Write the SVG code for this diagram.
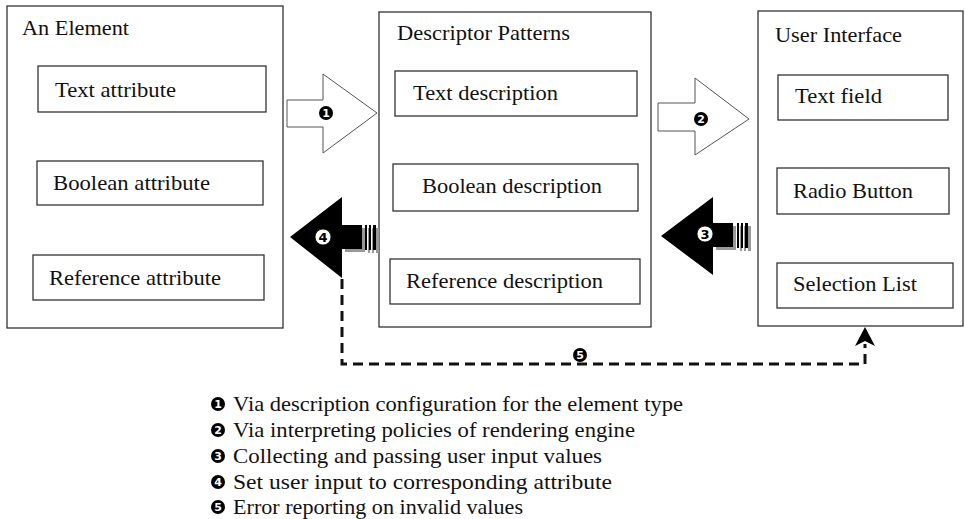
<svg xmlns="http://www.w3.org/2000/svg" width="965" height="519" viewBox="0 0 965 519">
<style>
.box{fill:#fff;stroke:#333;stroke-width:1.3}
.t{font-family:'Liberation Serif','Times New Roman',serif;font-size:22px;fill:#111}
.hol{fill:#fff;stroke:#555;stroke-width:1}
.blk{fill:#000}
.sh{fill:#999}
.nb{fill:#000}
.nw{fill:#fff;stroke:#000;stroke-width:0.8}
.dw{font-family:'DejaVu Sans',sans-serif;font-weight:bold;font-size:11px;fill:#fff;text-anchor:middle}
.db{font-family:'DejaVu Sans',sans-serif;font-weight:bold;font-size:13px;fill:#000;text-anchor:middle}
.dash{fill:none;stroke:#111;stroke-width:3;stroke-dasharray:10 6}
</style>

<g id="element">
<rect class="box" x="7" y="6" width="276" height="322"/>
<text class="t" x="22" y="35" textLength="107" lengthAdjust="spacingAndGlyphs">An Element</text>
<rect class="box" x="38" y="66" width="228" height="46"/>
<text class="t" x="55" y="97" textLength="121" lengthAdjust="spacingAndGlyphs">Text attribute</text>
<rect class="box" x="37" y="161" width="226" height="44"/>
<text class="t" x="53" y="190" textLength="157" lengthAdjust="spacingAndGlyphs">Boolean attribute</text>
<rect class="box" x="33" y="255" width="231" height="45"/>
<text class="t" x="49" y="285" textLength="172" lengthAdjust="spacingAndGlyphs">Reference attribute</text>
</g>

<g id="descriptor">
<rect class="box" x="379" y="12" width="272" height="315"/>
<text class="t" x="397" y="40" textLength="173" lengthAdjust="spacingAndGlyphs">Descriptor Patterns</text>
<rect class="box" x="395" y="71" width="242" height="45"/>
<text class="t" x="413" y="100" textLength="145" lengthAdjust="spacingAndGlyphs">Text description</text>
<rect class="box" x="393" y="164" width="245" height="47"/>
<text class="t" x="422" y="193" textLength="180" lengthAdjust="spacingAndGlyphs">Boolean description</text>
<rect class="box" x="390" y="259" width="250" height="45"/>
<text class="t" x="406" y="288" textLength="197" lengthAdjust="spacingAndGlyphs">Reference description</text>
</g>

<g id="ui">
<rect class="box" x="758" y="11" width="205" height="315"/>
<text class="t" x="775" y="42" textLength="127" lengthAdjust="spacingAndGlyphs">User Interface</text>
<rect class="box" x="778" y="75" width="170" height="45"/>
<text class="t" x="795" y="103" textLength="87" lengthAdjust="spacingAndGlyphs">Text field</text>
<rect class="box" x="777" y="168" width="172" height="46"/>
<text class="t" x="793" y="198" textLength="120" lengthAdjust="spacingAndGlyphs">Radio Button</text>
<rect class="box" x="777" y="263" width="176" height="45"/>
<text class="t" x="793" y="291" textLength="124" lengthAdjust="spacingAndGlyphs">Selection List</text>
</g>

<g id="connectors">
<g id="arrow1">
<polygon class="hol" points="287,100 323,100 323,74 377,113 323,153 323,127 287,127"/>
<circle class="nb" cx="326" cy="113" r="7"/>
<text class="dw" x="326" y="117">1</text>
</g>
<g id="arrow2">
<polygon class="hol" points="658,103 695,103 695,78 749,119 695,155 695,131 658,131"/>
<circle class="nb" cx="701" cy="119" r="7"/>
<text class="dw" x="701" y="123">2</text>
</g>
<g id="arrow4">
<polygon class="sh" points="293,240 345,200 345,281 345,252 365,252 365,228 345,228 345,200"/>
<rect class="sh" x="368" y="228" width="2" height="25"/>
<rect class="sh" x="372" y="228" width="2" height="25"/>
<rect class="sh" x="376" y="228" width="3" height="25"/>
<polygon class="blk" points="290,237 342,197 342,225 362,225 362,249 342,249 342,278"/>
<rect class="blk" x="365" y="225" width="2" height="25"/>
<rect class="blk" x="369" y="225" width="2" height="25"/>
<rect class="blk" x="373" y="225" width="3" height="25"/>
<circle class="nw" cx="323" cy="237" r="8"/>
<text class="db" x="323" y="242">4</text>
</g>
<g id="arrow3">
<polygon class="sh" points="664,238 716,200 716,278 716,250 736,250 736,226 716,226 716,200"/>
<rect class="sh" x="740" y="226" width="2" height="25"/>
<rect class="sh" x="744" y="226" width="2" height="25"/>
<rect class="sh" x="748" y="226" width="3" height="25"/>
<polygon class="blk" points="661,236 713,197 713,223 733,223 733,247 713,247 713,275"/>
<rect class="blk" x="737" y="223" width="2" height="25"/>
<rect class="blk" x="741" y="223" width="2" height="25"/>
<rect class="blk" x="745" y="223" width="3" height="25"/>
<circle class="nw" cx="705" cy="234" r="8"/>
<text class="db" x="705" y="239">3</text>
</g>
<g id="arrow5">
<polyline class="dash" points="342,279 342,364 865,364 865,344"/>
<polygon class="blk" points="865,327 875,346 865,341 855,346"/>
<circle class="nb" cx="580" cy="355" r="7"/>
<text class="dw" x="580" y="359">5</text>
</g>
</g>

<g id="legend">
<circle class="nb" cx="218" cy="404" r="7"/><text class="dw" x="218" y="408">1</text>
<circle class="nb" cx="218" cy="430" r="7"/><text class="dw" x="218" y="434">2</text>
<circle class="nb" cx="218" cy="456" r="7"/><text class="dw" x="218" y="460">3</text>
<circle class="nb" cx="218" cy="482" r="7"/><text class="dw" x="218" y="486">4</text>
<circle class="nb" cx="218" cy="507" r="7"/><text class="dw" x="218" y="511">5</text>
<text class="t" x="233" y="411" textLength="450" lengthAdjust="spacingAndGlyphs">Via description configuration for the element type</text>
<text class="t" x="233" y="437" textLength="402" lengthAdjust="spacingAndGlyphs">Via interpreting policies of rendering engine</text>
<text class="t" x="233" y="463" textLength="369" lengthAdjust="spacingAndGlyphs">Collecting and passing user input values</text>
<text class="t" x="233" y="489" textLength="379" lengthAdjust="spacingAndGlyphs">Set user input to corresponding attribute</text>
<text class="t" x="233" y="514" textLength="290" lengthAdjust="spacingAndGlyphs">Error reporting on invalid values</text>
</g>
</svg>
